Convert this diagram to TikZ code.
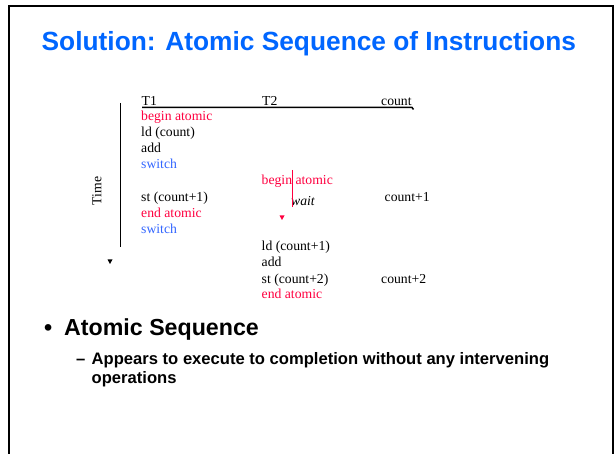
\documentclass[tikz,border=0pt]{standalone}
\usepackage{fontspec}
\setmainfont{Liberation Serif}
\setsansfont{Liberation Sans}
\definecolor{titleblue}{RGB}{0,102,255}
\definecolor{swblue}{RGB}{51,102,255}
\definecolor{atred}{RGB}{255,0,64}
\begin{document}
\begin{tikzpicture}[x=1pt,y=-1pt,
  tl/.style={anchor=base west,inner sep=0pt,font=\fontsize{13.7}{16}\selectfont},
  red/.style={tl,text=atred},
  sw/.style={tl,text=swblue},
  bul/.style={anchor=base west,inner sep=0pt,font=\sffamily\bfseries}]
\useasboundingbox (0,0) rectangle (614,454);
\fill[white] (0,0) rectangle (614,454);
% frame
\draw[line width=2pt] (9,454) -- (9,6) -- (613,6) -- (613,454);
% title
\node[anchor=base west,inner sep=0pt,font=\sffamily\bfseries\fontsize{26.3}{30}\selectfont,text=titleblue] (title) at (41.5,51) {Solution: Atomic Sequence of Instructions};
% headers
\node[tl] (t1) at (141.5,106) {T1};
\node[tl] (t2) at (262,106) {T2};
\node[tl] (cnt) at (381,106) {count};
\coordinate (hl) at (142,107.5);
\coordinate (hr) at (412,107.5);
\draw[line width=1.5pt] (hl) -- (hr) -- ++(1.5,2);
% time axis
\coordinate (vt) at (120.5,103);
\coordinate (vb) at (120.5,247);
\draw[line width=1.5pt] (vt) -- (vb);
\node[rotate=90,inner sep=0pt,font=\fontsize{13.7}{16}\selectfont] (time) at (97,191) {Time};
\fill (107.5,259.5) -- (112.5,259.5) -- (110,264) -- cycle;
% T1 column
\node[red] (b1) at (141,121) {begin atomic};
\node[tl] (ld1) at (141,136.7) {ld (count)};
\node[tl] (add1) at (141,153) {add};
\node[sw] (sw1) at (141,169) {switch};
\node[tl] (st1) at (141,201.7) {st (count+1)};
\node[red] (e1) at (141,217.7) {end atomic};
\node[sw] (sw2) at (141,233.5) {switch};
% T2 column
\node[red] (b2) at (261.5,185) {begin atomic};
\node[tl,font=\fontsize{13.7}{16}\selectfont\itshape] (wait) at (291,205.5) {wait};
\node[tl] (c1) at (384.5,201.7) {count+1};
\draw[atred,line width=1.5pt] (292.5,170) -- (292.5,207);
\fill[atred] (279.5,215.5) -- (284.5,215.5) -- (282,220) -- cycle;
\node[tl] (ld2) at (261.5,250.7) {ld (count+1)};
\node[tl] (add2) at (261.5,266.7) {add};
\node[tl] (st2) at (261.5,283.3) {st (count+2)};
\node[tl] (c2) at (381,283.3) {count+2};
\node[red] (e2) at (261.5,299) {end atomic};
% bullets
\node[bul,font=\sffamily\bfseries\fontsize{23.2}{26}\selectfont] (dot) at (44,336) {\textbullet};
\node[bul,font=\sffamily\bfseries\fontsize{23.2}{26}\selectfont] (h1) at (64,336) {Atomic Sequence};
\node[bul,font=\sffamily\bfseries\fontsize{16.6}{19}\selectfont] (dash) at (76,365) {–};
\node[bul,font=\sffamily\bfseries\fontsize{16.6}{19}\selectfont,align=left] (s1) at (91.5,365) {Appears to execute to completion without any intervening};
\node[bul,font=\sffamily\bfseries\fontsize{16.6}{19}\selectfont] (s2) at (91.5,384) {operations};
\end{tikzpicture}
\end{document}
